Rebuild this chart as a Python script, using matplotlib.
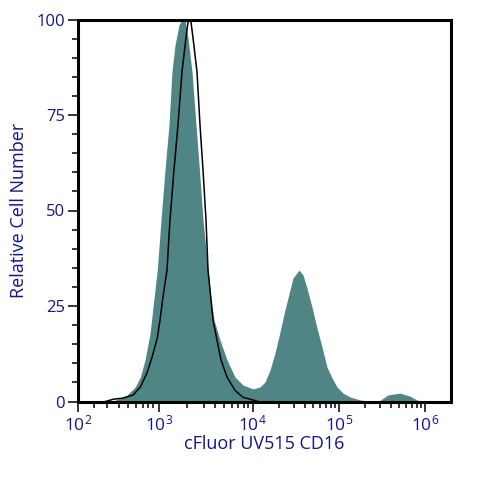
import numpy as np
import matplotlib
matplotlib.use("Agg")
import matplotlib.pyplot as plt

plt.rcParams['font.family'] = ['Open Sans', 'DejaVu Sans']
plt.rcParams['mathtext.fontset'] = 'custom'
plt.rcParams['mathtext.rm'] = 'Open Sans'

TEXT_COLOR = "#14148c"
FILL_COLOR = "#4f8584"

# filled histogram
fill_x = [340, 410, 490, 590, 660, 740, 840, 900, 970, 1050, 1159, 1278, 1376,
          1482, 1635, 1759, 1893, 2039, 2249, 2483, 2700, 2950, 3336, 3591,
          3866, 4477, 5317, 6476, 7880, 10080, 12150, 13880, 15870, 18130,
          20720, 23670, 27050, 29310, 34400, 38280, 42560, 48640, 55590,
          63530, 72610, 82990, 94840, 111300, 134200, 175500, 229500, 299700,
          371500, 511700, 669500, 807000, 922000]
fill_y = [0, 0.9, 1.7, 3.8, 6.4, 10.9, 17.9, 24.7, 34.4, 47.5, 60.6, 72.4, 86.3,
          93.3, 98.6, 99.9, 99.9, 95.2, 86.3, 72.4, 60.6, 47.5, 34.4, 26.6,
          21.3, 16.1, 10.9, 6.4, 4.3, 3.3, 3.8, 5.1, 8.2, 12.7,
          18.2, 24.0, 29.2, 32.3, 34.4, 33.1, 29.7, 24.7, 19.2,
          14.3, 9.0, 6.2, 3.8, 2.2, 1.2, 0.4, 0.1, 0.3,
          1.7, 2.2, 1.4, 0.4, 0]

# black outline histogram
line_x = [285, 350, 444, 562, 660, 780, 880, 970, 1025, 1103, 1217, 1310, 1445,
          1595, 1760, 1941, 2039, 2090, 2195, 2307, 2544, 2739, 2949, 3174,
          3336, 3591, 3771, 4159, 4588, 5317, 6476, 7880, 10080, 11500]
line_y = [0, 0.6, 0.9, 1.7, 3.8, 7.5, 11.6, 16.6, 21.3, 27.4, 34.4, 47.5, 60.6,
          72.4, 86.3, 95.2, 99.3, 100, 99.3, 95.2, 86.3, 72.4, 60.6, 47.5,
          34.4, 26.6, 21.3, 16.1, 10.9, 6.4, 2.9, 1.1, 0.4, 0]

# the x axis is biexponential, decades are not the same width
axis_values = [100, 200, 300, 400, 500, 600, 700, 800, 900, 1000, 10000, 100000,
               1000000, 2000000]
axis_pos = [78, 94, 107, 119, 128, 136, 143, 148, 153, 159, 252.7, 339, 425, 451]

major_x = [100, 1000, 10000, 100000, 1000000]
major_labels = [r'$\mathregular{10^{%d}}$' % e for e in [2, 3, 4, 5, 6]]
minor_x = [m * d for d in [100, 1000, 10000, 100000] for m in range(2, 10)]
major_y = [0, 25, 50, 75, 100]
minor_y = [v for v in range(0, 101, 5) if v % 25 != 0]


def forward(x):
    x = np.maximum(x, 1e-3)
    return np.interp(np.log10(x), np.log10(axis_values), axis_pos)


def inverse(p):
    return 10 ** np.interp(p, axis_pos, np.log10(axis_values))


fig = plt.figure(figsize=(4.8, 4.8), dpi=100)
ax = fig.add_axes([78 / 480, 1 - 401.5 / 480, (451 - 78) / 480, (401.5 - 19.5) / 480])

ax.set_xscale('function', functions=(forward, inverse))
ax.fill_between(fill_x, fill_y, 0, color=FILL_COLOR, lw=0)
ax.plot(line_x, line_y, color="black", lw=1.1)

ax.set_xlim(100, 2000000)
ax.set_ylim(0, 100)

ax.set_xticks(major_x)
ax.set_xticklabels(major_labels, color=TEXT_COLOR, fontsize=12.5)
ax.set_xticks(minor_x, minor=True)
ax.set_xticklabels([], minor=True)
ax.set_yticks(major_y)
ax.set_yticklabels([str(v) for v in major_y], color=TEXT_COLOR, fontsize=12)
ax.set_yticks(minor_y, minor=True)

ax.tick_params(axis='both', which='major', length=7.5, width=1.1, pad=2)
ax.tick_params(axis='both', which='minor', length=4, width=1.1)

for side in ax.spines.values():
    side.set_linewidth(2.2)

ax.set_xlabel("cFluor UV515 CD16", color=TEXT_COLOR, fontsize=13, labelpad=0)
ax.set_ylabel("Relative Cell Number", color=TEXT_COLOR, fontsize=13, labelpad=6)

fig.savefig("out.png", dpi=100)
